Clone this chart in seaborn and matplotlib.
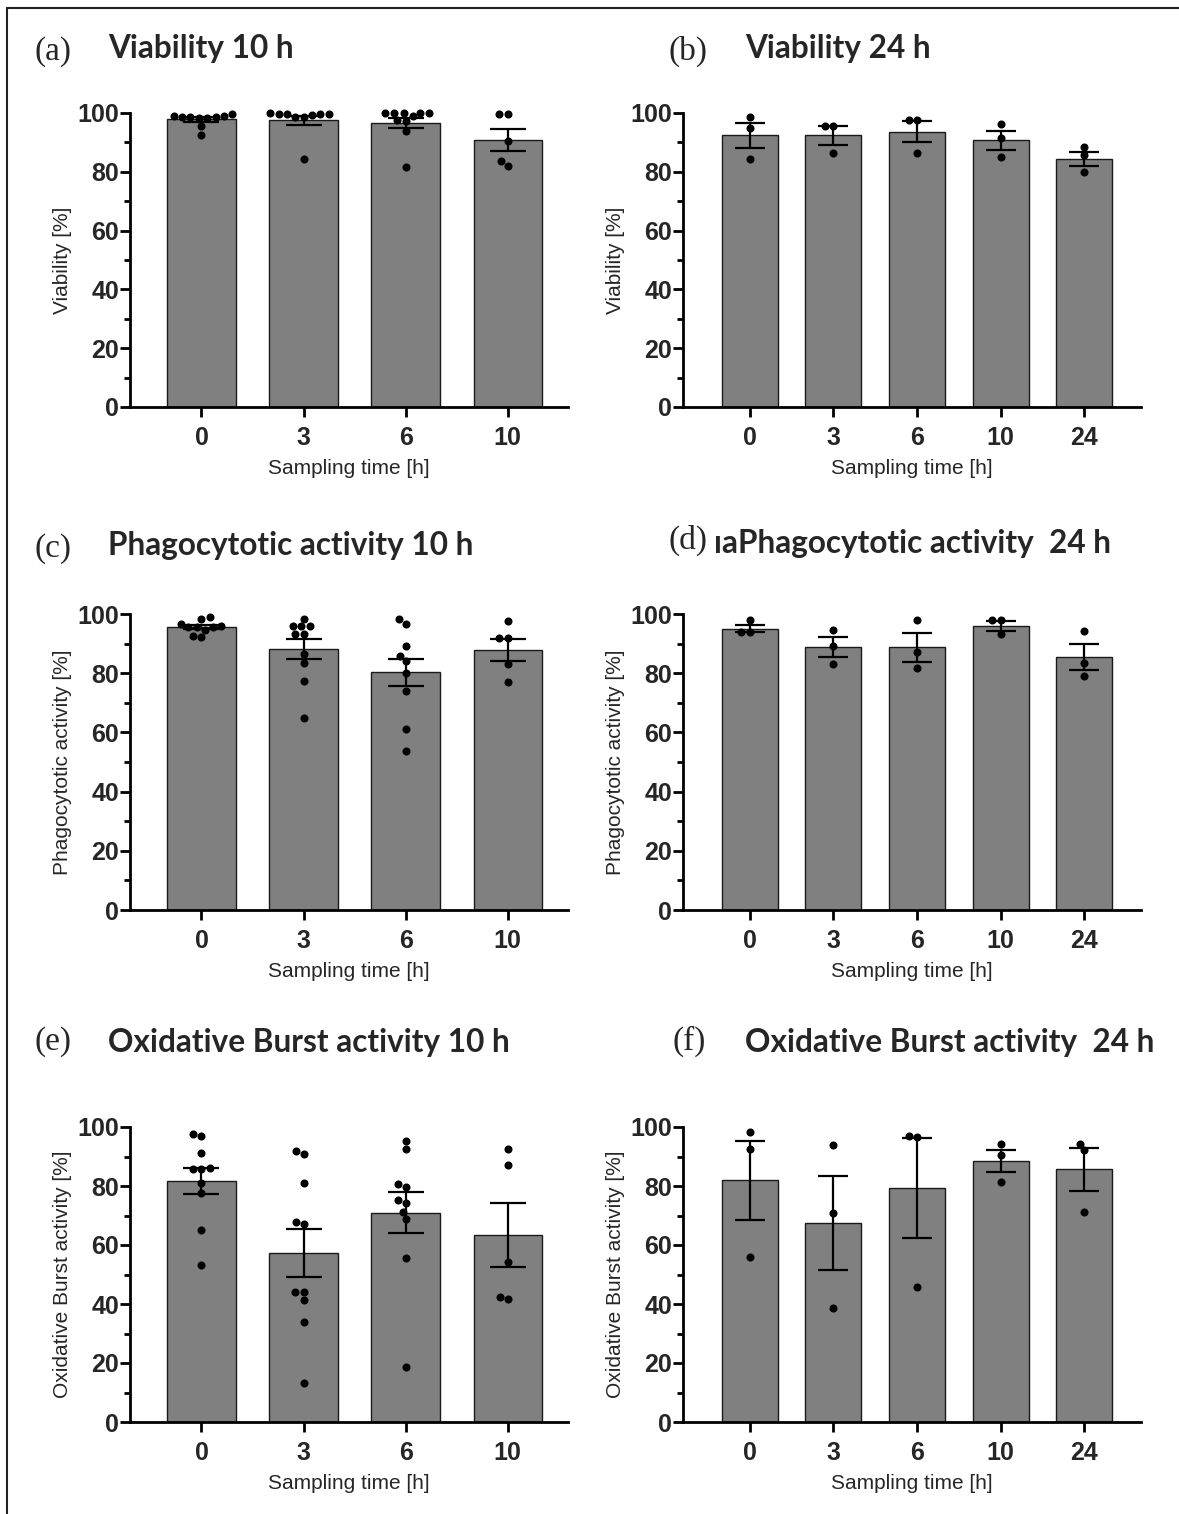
import matplotlib
matplotlib.use("Agg")
import matplotlib.pyplot as plt
import seaborn as sns
import pandas as pd
from matplotlib.ticker import MultipleLocator
from matplotlib.lines import Line2D

W, H, DPI = 1179, 1514, 100

# ---------------- data ----------------
times_10 = ["0", "3", "6", "10"]
times_24 = ["0", "3", "6", "10", "24"]

# (a) Viability 10 h
via10_mean = [97.8, 97.5, 96.6, 90.9]
via10_sem = [0.7, 1.5, 1.7, 3.8]
via10_pts = [
    [99.0, 99.8, 98.7, 98.3, 98.4, 98.6, 99.0, 98.8, 95.7, 92.6],
    [98.8, 100.0, 99.5, 99.2, 98.6, 99.5, 99.8, 99.6, 84.3],
    [100.0, 98.9, 100.0, 97.5, 93.9, 100.0, 100.0, 100.0, 97.3, 81.6],
    [99.8, 99.8, 90.5, 83.7, 81.9],
]
# (b) Viability 24 h
via24_mean = [92.4, 92.4, 93.6, 90.7, 84.5]
via24_sem = [4.3, 3.2, 3.6, 3.3, 2.4]
via24_pts = [
    [98.8, 95.0, 84.3],
    [95.7, 95.7, 86.3],
    [97.5, 97.5, 86.5],
    [96.4, 91.6, 85.1],
    [88.5, 85.7, 80.1],
]
# (c) Phagocytotic activity 10 h
pha10_mean = [95.5, 88.1, 80.3, 87.9]
pha10_sem = [0.7, 3.4, 4.6, 3.7]
pha10_pts = [
    [96.7, 98.3, 99.0, 95.6, 95.6, 92.2, 94.7, 92.7, 95.6, 96.0],
    [98.3, 95.8, 95.8, 95.8, 93.2, 93.2, 86.4, 83.6, 77.2, 65.0],
    [98.4, 96.7, 89.3, 85.9, 84.0, 80.0, 74.0, 61.1, 53.8],
    [97.5, 91.8, 91.8, 83.2, 77.0],
]
# (d) Phagocytotic activity 24 h
pha24_mean = [95.1, 88.8, 88.7, 95.9, 85.5]
pha24_sem = [1.3, 3.4, 4.8, 1.6, 4.5]
pha24_pts = [
    [97.9, 93.9, 93.9],
    [94.7, 89.3, 83.1],
    [97.9, 87.1, 81.7],
    [97.9, 97.9, 93.2],
    [94.1, 83.4, 79.1],
]
# (e) Oxidative Burst activity 10 h
oxb10_mean = [81.7, 57.2, 70.9, 63.4]
oxb10_sem = [4.5, 8.2, 6.9, 11.0]
oxb10_pts = [
    [96.8, 97.5, 91.2, 85.6, 86.2, 85.9, 81.1, 77.7, 65.1, 53.2],
    [91.8, 90.8, 81.1, 67.9, 67.0, 44.0, 44.0, 41.2, 34.0, 13.2],
    [95.2, 92.4, 80.8, 79.5, 75.4, 74.1, 71.3, 68.7, 55.7, 18.5],
    [92.6, 87.0, 54.3, 41.6, 42.3],
]
# (f) Oxidative Burst activity 24 h
oxb24_mean = [82.0, 67.5, 79.4, 88.5, 85.6]
oxb24_sem = [13.4, 16.0, 17.0, 3.8, 7.3]
oxb24_pts = [
    [98.2, 92.7, 55.8],
    [93.8, 70.9, 38.6],
    [97.1, 96.6, 45.7],
    [94.1, 90.6, 81.4],
    [94.4, 92.1, 71.2],
]

panel_letters = ["(a)", "(b)", "(c)", "(d)", "(e)", "(f)"]
panel_titles = ["Viability 10 h", "Viability 24 h",
                "Phagocytotic activity 10 h", "ıaPhagocytotic activity  24 h",
                "Oxidative Burst activity 10 h", "Oxidative Burst activity  24 h"]
y_labels = ["Viability [%]", "Viability [%]",
            "Phagocytotic activity [%]", "Phagocytotic activity [%]",
            "Oxidative Burst activity [%]", "Oxidative Burst activity [%]"]
x_label = "Sampling time [h]"

# ---------------- style ----------------
sns.set_style("ticks")
plt.rcParams["font.family"] = ["Liberation Sans", "DejaVu Sans"]

fig = plt.figure(figsize=(W / DPI, H / DPI), dpi=DPI)

def px_axes(left, top, right, bottom):
    return fig.add_axes([left / W, 1 - bottom / H, (right - left) / W, (bottom - top) / H])

panels = [
    (times_10, via10_mean, via10_sem, via10_pts, (130, 113, 568, 407)),
    (times_24, via24_mean, via24_sem, via24_pts, (683, 113, 1141, 407)),
    (times_10, pha10_mean, pha10_sem, pha10_pts, (130, 614, 568, 910)),
    (times_24, pha24_mean, pha24_sem, pha24_pts, (683, 614, 1141, 910)),
    (times_10, oxb10_mean, oxb10_sem, oxb10_pts, (130, 1127, 568, 1422)),
    (times_24, oxb24_mean, oxb24_sem, oxb24_pts, (683, 1127, 1141, 1422)),
]

for i, (cats, means, sems, pts, box) in enumerate(panels):
    ax = px_axes(*box)
    n = len(cats)
    bar_df = pd.DataFrame({"time": cats, "value": means})
    sns.barplot(data=bar_df, x="time", y="value", order=cats, ax=ax,
                color="#808080", saturation=1, edgecolor="#1a1a1a",
                linewidth=1.0, width=0.67, errorbar=None, zorder=2)
    ax.errorbar(x=list(range(n)), y=means, yerr=sems, fmt="none",
                ecolor="black", elinewidth=1.6, capthick=1.6,
                capsize=13 if n == 4 else 11, zorder=3)
    long = pd.DataFrame({"time": [c for c, p in zip(cats, pts) for _ in p],
                         "value": [v for p in pts for v in p]})
    n_before = len(ax.collections)
    sns.swarmplot(data=long, x="time", y="value", order=cats, ax=ax,
                  color="black", size=5.8, linewidth=0, zorder=4)
    for c in ax.collections[n_before:]:
        c.set_clip_on(False)

    if n == 4:
        ax.set_xlim(-0.70, 3.59)
    else:
        ax.set_xlim(-0.80, 4.68)
    ax.set_ylim(0, 100)
    ax.yaxis.set_major_locator(MultipleLocator(20))
    ax.yaxis.set_minor_locator(MultipleLocator(10))
    sns.despine(ax=ax)
    for s in ("left", "bottom"):
        ax.spines[s].set_linewidth(2.0)
        ax.spines[s].set_color("black")
    ax.tick_params(axis="both", which="major", length=7, width=2.0,
                   color="black", labelsize=18)
    ax.tick_params(axis="y", which="major", pad=1)
    ax.tick_params(axis="x", which="major", pad=7)
    ax.tick_params(axis="y", which="minor", length=4.5, width=2.0, color="black")
    for lab in ax.get_xticklabels() + ax.get_yticklabels():
        lab.set_fontweight("bold")
    ax.set_xlabel(x_label, fontsize=15, labelpad=6)
    ax.set_ylabel(y_labels[i], fontsize=15, labelpad=4)

# ---------------- titles ----------------
letter_pos = [(35, 60), (668, 60), (35, 557), (668, 549), (35, 1050), (672, 1050)]
title_pos = [(108, 58), (745, 58), (108, 555), (714, 553), (108, 1052), (745, 1052)]
for (lx, ly), (tx, ty), let, tit in zip(letter_pos, title_pos, panel_letters, panel_titles):
    fig.text(lx / W, 1 - ly / H, let, fontsize=24, va="baseline", ha="left",
             family=["Liberation Serif", "DejaVu Serif"])
    fig.text(tx / W, 1 - ty / H, tit, fontsize=22.7, va="baseline", ha="left",
             fontweight="bold", family=["Lato", "DejaVu Sans"])

# ---------------- frame lines ----------------
fig.add_artist(Line2D([7 / W, 1], [1 - 7.5 / H, 1 - 7.5 / H],
                      transform=fig.transFigure, color="#222222", lw=1.5))
fig.add_artist(Line2D([7 / W, 7 / W], [0, 1 - 7.5 / H],
                      transform=fig.transFigure, color="#222222", lw=1.5))

fig.savefig("out.png", dpi=DPI)
